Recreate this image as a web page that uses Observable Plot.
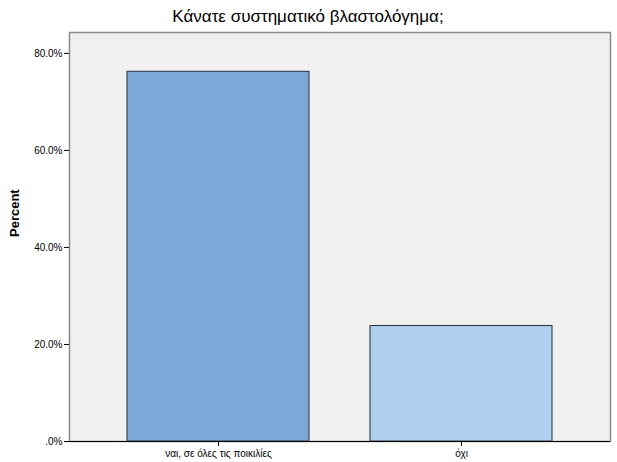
<!DOCTYPE html>
<html>
<head>
<meta charset="utf-8">
<script src="https://cdn.jsdelivr.net/npm/d3@7"></script>
<script src="https://cdn.jsdelivr.net/npm/@observablehq/plot@0.6"></script>
<style>
body { margin: 0; background: #fff; font-family: "Liberation Sans", Arial, sans-serif; }
</style>
</head>
<body>
<div id="chart"></div>
<script>
const title = "Κάνατε συστηματικό βλαστολόγημα;";
const categories = ["ναι, σε όλες τις ποικιλίες", "όχι"];
const percents = [76.2, 23.8];
const colors = ["#7BA8D6", "#AED0EE"];
const yTicks = [0, 20, 40, 60, 80];

const data = categories.map((c, i) => ({category: c, percent: percents[i], color: colors[i]}));

const chart = Plot.plot({
  width: 617,
  height: 462,
  marginTop: 32,
  marginLeft: 69,
  marginRight: 7,
  marginBottom: 21,
  style: {fontFamily: "'Liberation Sans', Arial, sans-serif", fontSize: "10px", background: "#fff"},
  x: {domain: categories, paddingInner: 0.25, paddingOuter: 0.234, label: null},
  y: {domain: [0, 84.3], label: null},
  marks: [
    Plot.frame({fill: "#F0F0F0", stroke: "#8a8a8a", strokeWidth: 1.5}),
    Plot.barY(data, {x: "category", y: "percent", fill: "color", stroke: "#25303c", strokeWidth: 1}),
    Plot.ruleX([0], {frameAnchor: "left", stroke: "#000", strokeWidth: 1.2}),
    Plot.ruleY([0], {stroke: "#000", strokeWidth: 1.2}),
    Plot.axisY(yTicks, {tickSize: 5, tickPadding: 2, fontSize: 10, stroke: "#000",
      tickFormat: d => d === 0 ? ".0%" : d.toFixed(1) + "%", label: null}),
    Plot.axisX({tickSize: 5, tickPadding: 3, fontSize: 10, stroke: "#000", label: null}),
    Plot.text([title], {frameAnchor: "top", dx: -32, dy: -11, lineAnchor: "bottom", fontSize: 17, fill: "#000"}),
    Plot.text(["Percent"], {frameAnchor: "left", dx: -55, rotate: -90, fontSize: 13, fontWeight: "bold", fill: "#000"})
  ]
});
document.getElementById("chart").append(chart);
</script>
</body>
</html>
